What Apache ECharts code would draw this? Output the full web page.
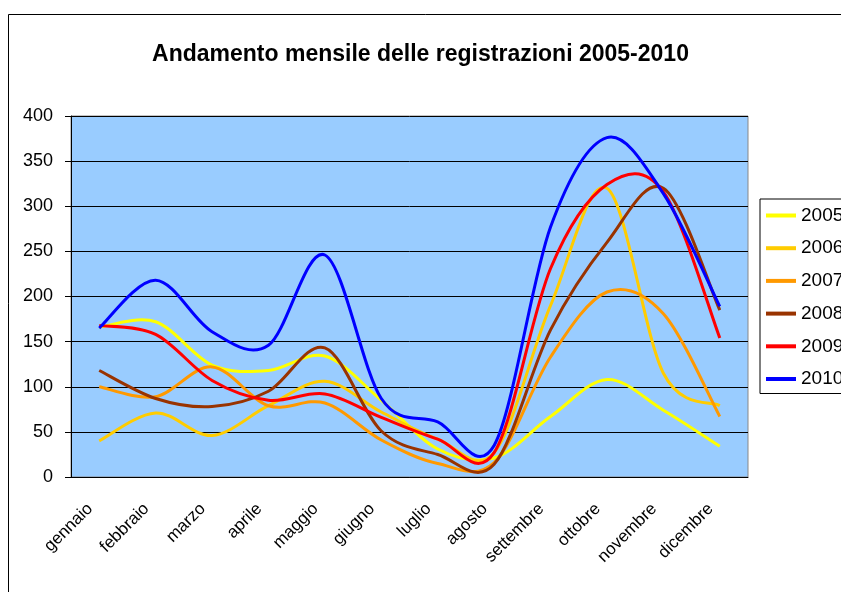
<!DOCTYPE html>
<html>
<head>
<meta charset="utf-8">
<script src="https://cdn.jsdelivr.net/npm/echarts@6/dist/echarts.min.js"></script>
<style>
  html, body { margin: 0; padding: 0; background: #fff; }
  #chart { width: 841px; height: 592px; }
</style>
</head>
<body>
<div id="chart"></div>
<script>
// mesi e registrazioni mensili per anno
const months = ['gennaio', 'febbraio', 'marzo', 'aprile', 'maggio', 'giugno',
  'luglio', 'agosto', 'settembre', 'ottobre', 'novembre', 'dicembre']
const years = ['2005', '2006', '2007', '2008', '2009', '2010']
const y2005 = [166, 172, 124, 118, 134, 85, 31, 21, 67, 108, 74, 34]
const y2006 = [40, 71, 46, 79, 106, 72, 42, 27, 190, 320, 115, 79]
const y2007 = [100, 89, 122, 79, 82, 41, 15, 16, 133, 205, 181, 67]
const y2008 = [118, 87, 78, 95, 143, 51, 25, 14, 163, 260, 320, 185]
const y2009 = [168, 158, 107, 85, 92, 66, 42, 27, 231, 324, 316, 154]
const y2010 = [165, 218, 161, 146, 246, 87, 61, 35, 277, 376, 314, 189]
const yTicks = { min: 0, max: 400, interval: 50 }

const colors = ['#FFFF00', '#FFCC00', '#FF9900', '#993300', '#FF0000', '#0000FF']
const values = [y2005, y2006, y2007, y2008, y2009, y2010]
const font = 'Liberation Sans, Arial, sans-serif'

const chart = echarts.init(document.getElementById('chart'))

// curva smussata come in Excel (catmull-rom -> bezier), punti presi dagli assi
function smoothPath(pts) {
  let d = 'M' + pts[0][0] + ' ' + pts[0][1]
  for (let k = 0; k < pts.length - 1; k++) {
    const p0 = pts[Math.max(k - 1, 0)]
    const p1 = pts[k]
    const p2 = pts[k + 1]
    const p3 = pts[Math.min(k + 2, pts.length - 1)]
    const c1x = p1[0] + (p2[0] - p0[0]) / 6
    const c1y = p1[1] + (p2[1] - p0[1]) / 6
    const c2x = p2[0] - (p3[0] - p1[0]) / 6
    const c2y = p2[1] - (p3[1] - p1[1]) / 6
    d += ' C' + c1x + ' ' + c1y + ' ' + c2x + ' ' + c2y + ' ' + p2[0] + ' ' + p2[1]
  }
  return d
}

const series = years.map((name, i) => ({
  name: name,
  type: 'custom',
  data: values[i].map((v, k) => [k, v]),
  itemStyle: { color: colors[i] },
  renderItem: function(params, api) {
    if (params.dataIndex !== 0) return null
    const pts = values[i].map((v, k) => api.coord([k, v]))
    return {
      type: 'path',
      shape: { pathData: smoothPath(pts) },
      style: { fill: 'none', stroke: colors[i], lineWidth: 3, lineJoin: 'round' }
    }
  }
}))

chart.setOption({
  animation: false,
  textStyle: { fontFamily: font },
  graphic: [{
    type: 'rect',
    z: -10,
    shape: { x: 8.5, y: 14.5, width: 1000, height: 1000 },
    style: { fill: 'none', stroke: '#000', lineWidth: 1 }
  }],
  title: {
    text: 'Andamento mensile delle registrazioni 2005-2010',
    left: 'center',
    top: 38,
    padding: [5, 5, 5, 17],
    textStyle: { fontFamily: font, fontSize: 23, fontWeight: 'bold', color: '#000' }
  },
  legend: {
    orient: 'vertical',
    left: 760,
    top: 199,
    padding: [7, 20, 5, 6],
    backgroundColor: '#fff',
    borderColor: '#000',
    borderWidth: 1,
    borderRadius: 0,
    icon: 'rect',
    itemWidth: 30,
    itemHeight: 4,
    itemGap: 13.7,
    data: years,
    textStyle: { fontFamily: font, fontSize: 19, lineHeight: 19, color: '#000' }
  },
  grid: {
    left: 71,
    right: 93,
    top: 116,
    bottom: 115,
    show: true,
    backgroundColor: '#99CCFF',
    borderColor: '#888',
    borderWidth: 1
  },
  xAxis: [{
    type: 'category',
    data: months,
    boundaryGap: true,
    axisLine: { lineStyle: { color: '#000', width: 1 } },
    axisTick: { length: 7, lineStyle: { color: '#000' } },
    axisLabel: {
      interval: 0,
      rotate: 45,
      margin: 20,
      padding: [0, 13, 0, 0],
      fontFamily: font,
      fontSize: 17,
      color: '#000'
    }
  }, {
    type: 'category',
    data: months,
    boundaryGap: true,
    position: 'bottom',
    axisLine: { show: false },
    axisTick: { alignWithLabel: true, length: 7, lineStyle: { color: '#000' } },
    axisLabel: { show: false }
  }, {
    type: 'category',
    data: months,
    boundaryGap: true,
    position: 'bottom',
    axisLine: { show: false },
    axisTick: { alignWithLabel: true, inside: true, length: 5, lineStyle: { color: '#000' } },
    axisLabel: { show: false }
  }],
  yAxis: {
    type: 'value',
    min: yTicks.min,
    max: yTicks.max,
    interval: yTicks.interval,
    axisLine: { show: true, lineStyle: { color: '#000', width: 1 } },
    axisTick: { show: true, length: 6, lineStyle: { color: '#000' } },
    axisLabel: { margin: 18, fontFamily: font, fontSize: 18, color: '#000' },
    splitLine: { lineStyle: { color: '#000', width: 1 } }
  },
  series: series
})
</script>
</body>
</html>
